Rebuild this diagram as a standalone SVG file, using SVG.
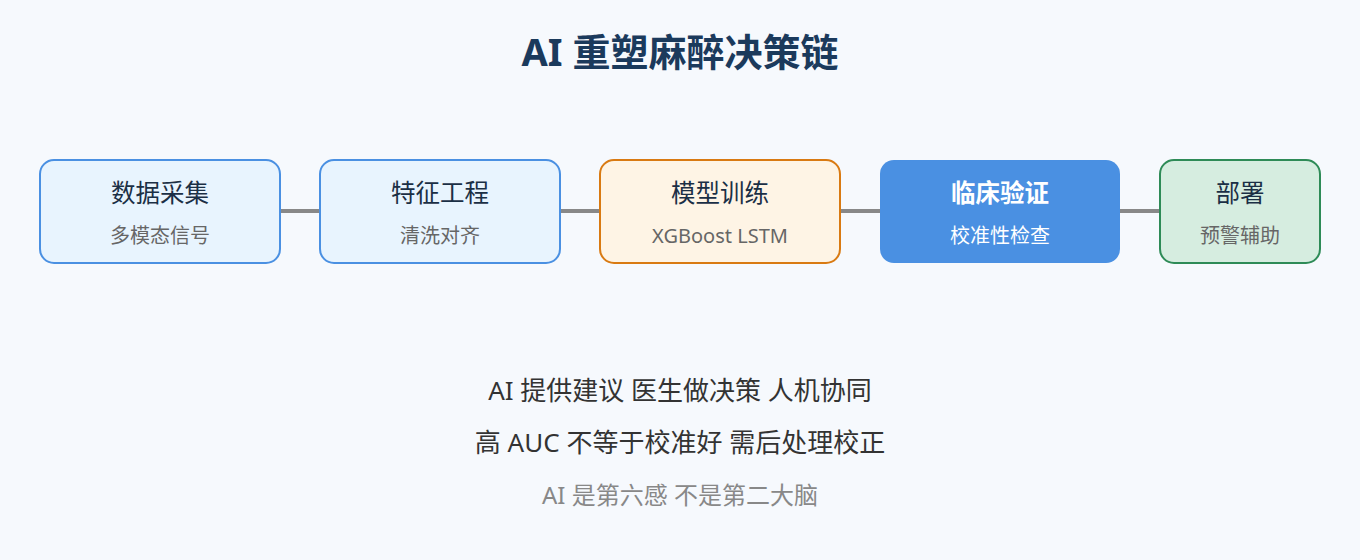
<svg xmlns="http://www.w3.org/2000/svg" width="1360" height="560" viewBox="0 0 1360 560">
<style>
text{font-family:"Noto Sans","Noto Sans CJK SC",sans-serif;text-anchor:middle}
.title{font-size:38px;font-weight:bold;fill:#1b3a5c}
.nt{font-size:24.5px;fill:#1b2f45}
.ns{font-size:20px;fill:#666}
.ln{stroke:#888;stroke-width:4}
.main{font-size:26px;fill:#333}
.sub{font-size:24px;fill:#888}
</style>
<rect width="1360" height="560" fill="#f6f9fd"/>
<text class="title" x="680" y="66">AI 重塑麻醉决策链</text>
<g id="connectors">
<line class="ln" x1="280" y1="211" x2="320" y2="211"/>
<line class="ln" x1="560" y1="211" x2="600" y2="211"/>
<line class="ln" x1="840" y1="211" x2="880" y2="211"/>
<line class="ln" x1="1120" y1="211" x2="1160" y2="211"/>
</g>
<g id="n1">
<rect x="40" y="160" width="240" height="103" rx="14" fill="#e8f4fe" stroke="#4a90e2" stroke-width="2"/>
<text class="nt" x="160" y="202">数据采集</text>
<text class="ns" x="160" y="243">多模态信号</text>
</g>
<g id="n2">
<rect x="320" y="160" width="240" height="103" rx="14" fill="#e8f4fe" stroke="#4a90e2" stroke-width="2"/>
<text class="nt" x="440" y="202">特征工程</text>
<text class="ns" x="440" y="243">清洗对齐</text>
</g>
<g id="n3">
<rect x="600" y="160" width="240" height="103" rx="14" fill="#fef4e5" stroke="#d97a12" stroke-width="2"/>
<text class="nt" x="720" y="202">模型训练</text>
<text class="ns" x="720" y="243">XGBoost LSTM</text>
</g>
<g id="n4">
<rect x="880" y="160" width="240" height="103" rx="14" fill="#4a90e2"/>
<text class="nt" x="1000" y="202" style="fill:#fff;font-weight:bold">临床验证</text>
<text class="ns" x="1000" y="243" style="fill:#fff">校准性检查</text>
</g>
<g id="n5">
<rect x="1160" y="160" width="160" height="103" rx="14" fill="#d6ede0" stroke="#2e8b57" stroke-width="2"/>
<text class="nt" x="1240" y="202">部署</text>
<text class="ns" x="1240" y="243">预警辅助</text>
</g>
<text class="main" x="680" y="400">AI 提供建议 医生做决策 人机协同</text>
<text class="main" x="680" y="452">高 AUC 不等于校准好 需后处理校正</text>
<text class="sub" x="680" y="504">AI 是第六感 不是第二大脑</text>
</svg>
